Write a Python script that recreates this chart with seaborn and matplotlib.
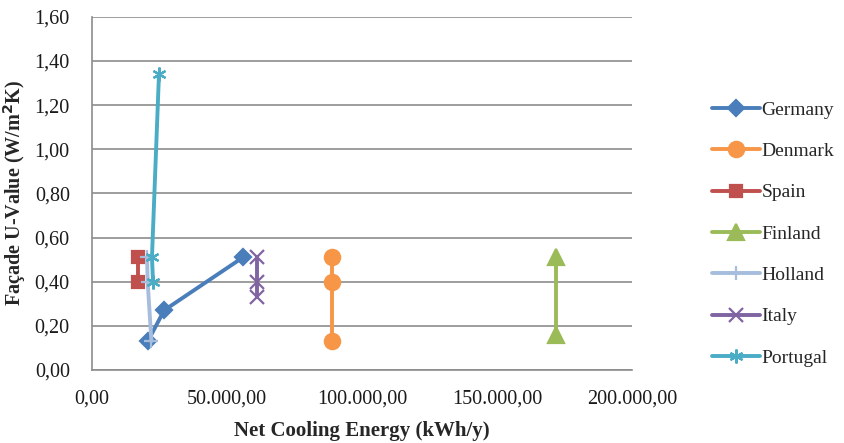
import pandas as pd
import numpy as np
import matplotlib
matplotlib.use('Agg')
import matplotlib.pyplot as plt
import seaborn as sns
from matplotlib.ticker import FuncFormatter, MultipleLocator

# data: (net cooling energy kWh/y, facade U-value W/m2K)
countries = ['Germany', 'Denmark', 'Spain', 'Finland', 'Holland', 'Italy', 'Portugal']
germany_x = [20700, 26700, 55900]
germany_y = [0.13, 0.27, 0.51]
denmark_x = [88900, 88900, 88900]
denmark_y = [0.51, 0.40, 0.13]
spain_x = [17000, 17000]
spain_y = [0.51, 0.40]
finland_x = [171800, 171800]
finland_y = [0.16, 0.51]
holland_x = [20400, 20600, 22000]
holland_y = [0.51, 0.40, 0.13]
italy_x = [61000, 61000, 61000]
italy_y = [0.51, 0.40, 0.33]
portugal_x = [22600, 22200, 24800]
portugal_y = [0.40, 0.51, 1.34]

series = {
    'Germany': (germany_x, germany_y),
    'Denmark': (denmark_x, denmark_y),
    'Spain': (spain_x, spain_y),
    'Finland': (finland_x, finland_y),
    'Holland': (holland_x, holland_y),
    'Italy': (italy_x, italy_y),
    'Portugal': (portugal_x, portugal_y),
}

rows = []
for name in countries:
    xs, ys = series[name]
    for i, (x, y) in enumerate(zip(xs, ys)):
        rows.append({'country': name, 'order': i, 'energy': x, 'uvalue': y})
df = pd.DataFrame(rows)

palette = {
    'Germany': '#4A7EBB',
    'Denmark': '#F79646',
    'Spain': '#C0504D',
    'Finland': '#9BBB59',
    'Holland': '#A6BDDE',
    'Italy': '#8064A2',
    'Portugal': '#4BACC6',
}
markers = {
    'Germany': 'D',
    'Denmark': 'o',
    'Spain': 's',
    'Finland': '^',
    'Holland': '+',
    'Italy': 'x',
    'Portugal': (6, 2, 0),
}
sizes = {'Germany': 8, 'Denmark': 11, 'Spain': 9, 'Finland': 11,
         'Holland': 10, 'Italy': 10, 'Portugal': 10}

sns.set_theme(style='white')
plt.rcParams['font.family'] = ['Liberation Serif', 'DejaVu Serif']

fig = plt.figure(figsize=(8.44, 4.43), dpi=100)
ax = fig.add_axes([0.109, 0.165, 0.64, 0.797])

for name in countries:
    sub = df[df['country'] == name]
    sns.lineplot(data=sub, x='energy', y='uvalue', sort=False, ax=ax,
                 color=palette[name], marker=markers[name], markersize=sizes[name],
                 markeredgecolor=palette[name], markeredgewidth=1.6,
                 linewidth=2.8, label=name, estimator=None)

ax.set_xlim(0, 200000)
ax.set_ylim(0, 1.6)
ax.yaxis.set_major_locator(MultipleLocator(0.2))
ax.xaxis.set_major_locator(MultipleLocator(50000))


def fmt_x(v, pos):
    s = f'{v:,.2f}'
    return s.replace(',', 'X').replace('.', ',').replace('X', '.')


ax.xaxis.set_major_formatter(FuncFormatter(fmt_x))
ax.yaxis.set_major_formatter(FuncFormatter(lambda v, p: f'{v:.2f}'.replace('.', ',')))

ax.grid(axis='y', color='#8c8c8c', linewidth=1.2)
ax.grid(axis='x', visible=False)
ax.set_axisbelow(True)
for side in ['top', 'right']:
    ax.spines[side].set_visible(False)
for side in ['left', 'bottom']:
    ax.spines[side].set_color('#8c8c8c')
    ax.spines[side].set_linewidth(1.2)

ax.tick_params(axis='y', labelsize=14.5, colors='#8c8c8c', labelcolor='#1a1a1a',
               length=0, pad=16)
ax.tick_params(axis='x', labelsize=14.5, colors='#8c8c8c', labelcolor='#1a1a1a',
               length=0, pad=14)
ax.set_xlabel('Net Cooling Energy (kWh/y)', fontsize=15, fontweight='bold', labelpad=9)
ax.set_ylabel('Façade U-Value (W/m$^{\\mathbf{2}}$K)', fontsize=14.5, fontweight='bold', labelpad=5)

leg = ax.legend(loc='center left', bbox_to_anchor=(1.115, 0.385), frameon=False,
                fontsize=14, labelspacing=1.22, handlelength=2.5, handletextpad=0.05)

fig.savefig('out.png', dpi=100)
